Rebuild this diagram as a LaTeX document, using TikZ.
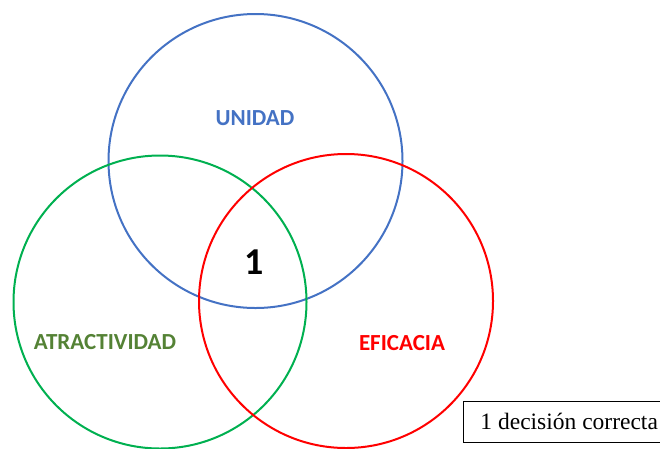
\documentclass[tikz,border=0pt]{standalone}
\usepackage{fontspec}
\setmainfont{Liberation Serif}
\newfontfamily\vennfont{Carlito}
\definecolor{unidadblue}{HTML}{4472C4}
\definecolor{ringgreen}{HTML}{00B050}
\definecolor{wordgreen}{HTML}{548235}
\definecolor{eficaciared}{HTML}{FF0000}
\tikzset{ring/.style={line width=2pt}}
\tikzset{setname/.style={font=\vennfont\bfseries\fontsize{23}{27}\selectfont, inner sep=0pt}}
\tikzset{notebox/.style={draw, line width=0.9pt, text width=220pt, align=flush left, inner xsep=17pt, minimum height=41pt, inner ysep=0pt, font=\fontsize{23.5}{28}\selectfont}}

\begin{document}
\begin{tikzpicture}[x=1pt, y=-1pt]
            \clip (0, 0) rectangle (660, 448);
            \draw[ring, unidadblue] (255.5, 161) circle [radius=147pt];
            \draw[ring, ringgreen] (160, 302) circle [radius=146.5pt];
            \draw[ring, eficaciared] (346, 301) circle [radius=147pt];
            \node[setname, text=unidadblue] (unidad) at (255, 118) {UNIDAD};
            \node[setname, text=wordgreen] (atractividad) at (105, 342.5) {ATRACTIVIDAD};
            \node[setname, text=eficaciared] (eficacia) at (402, 343) {EFICACIA};
            \node[setname, font=\vennfont\bfseries\fontsize{38}{44}\selectfont] (uno) at (254.5, 262.5) {1};
            \node[notebox, anchor=west] (nota) at (463, 421.5) {1 decisión correcta};
        \end{tikzpicture}
\end{document}
